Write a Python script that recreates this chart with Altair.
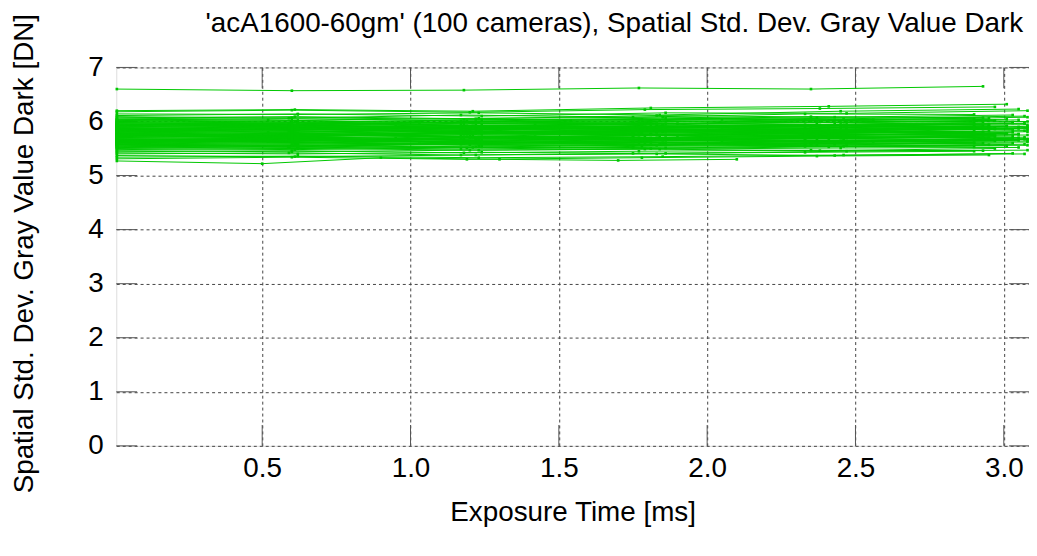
import altair as alt
import pandas as pd

title_text = "'acA1600-60gm' (100 cameras), Spatial Std. Dev. Gray Value Dark"
x_title = "Exposure Time [ms]"
y_title = "Spatial Std. Dev. Gray Value Dark [DN]"

x_ticks = [0.5, 1.0, 1.5, 2.0, 2.5, 3.0]
y_ticks = [0, 1, 2, 3, 4, 5, 6, 7]

# exposure times [ms] used by the cameras
exposure_schedules = {
    "A": [0.01, 0.60, 1.18, 1.77, 2.35, 2.93],
    "B": [0.01, 0.50, 0.90, 1.30, 1.70, 2.10],
    "C": [0.01, 0.61, 1.21, 1.81, 2.41, 3.01],
    "D": [0.01, 0.62, 1.23, 1.84, 2.45, 3.05],
    "E": [0.01, 0.60, 1.20, 1.79, 2.38, 2.97],
    "F": [0.01, 0.62, 1.24, 1.86, 2.47, 3.08],
    "G": [0.01, 0.59, 1.17, 1.75, 2.33, 2.90],
    "H": [0.01, 0.52, 1.03, 1.54, 2.05, 2.56],
    "I": [0.01, 0.48, 0.95, 1.42, 1.90, 2.37],
    "J": [0.01, 0.61, 1.22, 1.83, 2.43, 3.03],
    "K": [0.01, 0.62, 1.23, 1.85, 2.46, 3.07],
    "L": [0.01, 0.60, 1.19, 1.78, 2.37, 2.95],
}

# per camera: exposure schedule, then spatial std. dev. gray value dark [DN]
cameras = [
    ["A", 6.60, 6.57, 6.58, 6.62, 6.60, 6.65],
    ["B", 5.27, 5.22, 5.33, 5.30, 5.28, 5.30],
    ["C", 6.20, 6.22, 6.19, 6.25, 6.28, 6.32],
    ["E", 6.18, 6.21, 6.17, 6.22, 6.24, 6.27],
    ["D", 6.14, 6.13, 6.16, 6.12, 6.19, 6.23],
    ["F", 6.11, 6.14, 6.10, 6.16, 6.15, 6.20],
    ["G", 6.09, 6.06, 6.12, 6.08, 6.14, 6.13],
    ["J", 6.07, 6.09, 6.05, 6.11, 6.08, 6.12],
    ["A", 6.05, 6.07, 6.04, 6.03, 6.09, 6.07],
    ["K", 6.04, 6.02, 6.06, 6.08, 6.05, 6.10],
    ["L", 6.03, 6.05, 6.01, 6.04, 6.07, 6.06],
    ["F", 6.02, 5.99, 6.03, 6.06, 6.02, 6.08],
    ["H", 6.01, 6.03, 5.98, 6.02, 6.04, 6.03],
    ["G", 6.00, 5.97, 6.01, 5.99, 6.03, 6.05],
    ["C", 5.99, 6.01, 5.97, 6.00, 6.02, 6.04],
    ["D", 5.98, 5.95, 5.99, 6.02, 5.98, 6.03],
    ["A", 5.97, 5.99, 5.96, 5.98, 6.01, 5.99],
    ["E", 5.96, 5.94, 5.98, 5.95, 5.99, 6.02],
    ["F", 5.95, 5.97, 5.93, 5.96, 5.98, 6.00],
    ["G", 5.94, 5.92, 5.95, 5.97, 5.94, 5.98],
    ["I", 5.93, 5.95, 5.91, 5.94, 5.96, 5.95],
    ["J", 5.92, 5.90, 5.93, 5.91, 5.95, 5.97],
    ["K", 5.91, 5.93, 5.89, 5.92, 5.94, 5.96],
    ["L", 5.90, 5.88, 5.92, 5.90, 5.93, 5.95],
    ["F", 5.89, 5.91, 5.87, 5.90, 5.92, 5.94],
    ["A", 5.88, 5.86, 5.89, 5.91, 5.88, 5.92],
    ["G", 5.87, 5.89, 5.86, 5.88, 5.90, 5.91],
    ["C", 5.86, 5.84, 5.88, 5.85, 5.89, 5.92],
    ["D", 5.85, 5.87, 5.83, 5.86, 5.88, 5.90],
    ["E", 5.84, 5.82, 5.85, 5.87, 5.84, 5.88],
    ["F", 5.83, 5.85, 5.81, 5.84, 5.86, 5.87],
    ["H", 5.82, 5.80, 5.83, 5.81, 5.85, 5.84],
    ["G", 5.81, 5.83, 5.79, 5.82, 5.84, 5.86],
    ["J", 5.80, 5.78, 5.82, 5.80, 5.83, 5.85],
    ["A", 5.79, 5.81, 5.77, 5.80, 5.82, 5.81],
    ["K", 5.78, 5.76, 5.79, 5.81, 5.78, 5.83],
    ["L", 5.77, 5.79, 5.76, 5.78, 5.80, 5.82],
    ["F", 5.76, 5.74, 5.78, 5.75, 5.79, 5.81],
    ["G", 5.75, 5.77, 5.73, 5.76, 5.78, 5.80],
    ["C", 5.74, 5.72, 5.75, 5.77, 5.74, 5.78],
    ["D", 5.73, 5.75, 5.71, 5.74, 5.76, 5.77],
    ["E", 5.72, 5.70, 5.73, 5.71, 5.75, 5.76],
    ["I", 5.71, 5.73, 5.69, 5.72, 5.74, 5.73],
    ["F", 5.70, 5.68, 5.72, 5.70, 5.73, 5.75],
    ["A", 5.69, 5.71, 5.67, 5.70, 5.72, 5.71],
    ["G", 5.68, 5.66, 5.69, 5.71, 5.68, 5.72],
    ["J", 5.67, 5.69, 5.66, 5.68, 5.70, 5.73],
    ["K", 5.66, 5.64, 5.68, 5.65, 5.69, 5.71],
    ["L", 5.65, 5.67, 5.63, 5.66, 5.68, 5.70],
    ["F", 5.64, 5.62, 5.65, 5.67, 5.64, 5.68],
    ["G", 5.63, 5.65, 5.61, 5.64, 5.66, 5.67],
    ["C", 5.62, 5.60, 5.63, 5.61, 5.65, 5.66],
    ["H", 5.61, 5.63, 5.59, 5.62, 5.64, 5.63],
    ["D", 5.60, 5.58, 5.62, 5.60, 5.63, 5.65],
    ["E", 5.59, 5.61, 5.57, 5.60, 5.62, 5.64],
    ["A", 5.58, 5.56, 5.59, 5.61, 5.58, 5.60],
    ["F", 5.57, 5.59, 5.56, 5.58, 5.60, 5.62],
    ["G", 5.56, 5.54, 5.58, 5.55, 5.59, 5.61],
    ["J", 5.55, 5.57, 5.53, 5.56, 5.58, 5.60],
    ["K", 5.54, 5.52, 5.55, 5.57, 5.54, 5.58],
    ["L", 5.53, 5.55, 5.51, 5.54, 5.56, 5.57],
    ["F", 5.52, 5.50, 5.53, 5.51, 5.55, 5.56],
    ["G", 5.51, 5.53, 5.49, 5.52, 5.54, 5.53],
    ["C", 5.50, 5.48, 5.52, 5.50, 5.53, 5.55],
    ["D", 5.48, 5.50, 5.47, 5.49, 5.51, 5.52],
    ["E", 5.46, 5.44, 5.47, 5.49, 5.46, 5.50],
    ["A", 5.44, 5.46, 5.42, 5.45, 5.47, 5.46],
    ["F", 5.42, 5.40, 5.43, 5.41, 5.45, 5.47],
    ["G", 5.40, 5.42, 5.38, 5.41, 5.43, 5.45],
    ["J", 5.37, 5.35, 5.38, 5.40, 5.37, 5.41],
    ["K", 5.34, 5.36, 5.33, 5.35, 5.38, 5.40],
    ["L", 5.31, 5.34, 5.30, 5.33, 5.36, 5.38],
    ["C", 5.95, 5.90, 5.88, 5.93, 5.86, 5.91],
    ["D", 5.90, 5.94, 5.85, 5.89, 5.92, 5.87],
    ["E", 5.85, 5.80, 5.87, 5.83, 5.79, 5.86],
    ["F", 5.80, 5.86, 5.78, 5.82, 5.88, 5.84],
    ["G", 5.75, 5.71, 5.79, 5.74, 5.77, 5.82],
    ["A", 5.70, 5.76, 5.72, 5.68, 5.74, 5.79],
    ["J", 5.65, 5.61, 5.68, 5.70, 5.63, 5.69],
    ["K", 5.60, 5.66, 5.62, 5.58, 5.65, 5.67],
    ["L", 5.92, 5.97, 5.90, 5.95, 5.99, 5.93],
    ["F", 5.87, 5.84, 5.90, 5.86, 5.82, 5.89],
    ["G", 5.82, 5.87, 5.80, 5.85, 5.81, 5.88],
    ["C", 5.77, 5.73, 5.80, 5.76, 5.82, 5.78],
    ["D", 5.72, 5.78, 5.70, 5.74, 5.69, 5.76],
    ["E", 5.67, 5.63, 5.70, 5.66, 5.72, 5.74],
    ["F", 5.62, 5.68, 5.60, 5.65, 5.61, 5.67],
    ["G", 5.57, 5.53, 5.59, 5.62, 5.56, 5.60],
    ["J", 5.98, 5.93, 6.00, 5.96, 6.02, 5.99],
    ["K", 5.93, 5.98, 5.91, 5.95, 5.90, 5.97],
    ["L", 5.88, 5.84, 5.91, 5.87, 5.93, 5.90],
    ["F", 5.83, 5.88, 5.81, 5.86, 5.84, 5.91],
    ["G", 5.78, 5.74, 5.80, 5.77, 5.73, 5.79],
    ["C", 5.73, 5.79, 5.71, 5.75, 5.80, 5.77],
    ["D", 5.68, 5.64, 5.71, 5.67, 5.63, 5.70],
    ["E", 5.63, 5.69, 5.61, 5.65, 5.70, 5.72],
    ["F", 5.58, 5.55, 5.61, 5.57, 5.62, 5.64],
    ["G", 5.86, 5.90, 5.84, 5.89, 5.92, 5.95],
    ["J", 5.76, 5.72, 5.78, 5.81, 5.75, 5.80],
    ["K", 5.66, 5.70, 5.64, 5.68, 5.71, 5.69],
]

records = []
for cam_idx, row in enumerate(cameras):
    sched = exposure_schedules[row[0]]
    for step, (xv, yv) in enumerate(zip(sched, row[1:])):
        records.append({"camera": cam_idx, "step": step, "exposure": xv, "value": yv})
df = pd.DataFrame(records)

FONT = "Liberation Sans"
FS = 28
W, H = 919, 381
GREEN = "#00c800"
TICKC = "#555555"

x_scale = alt.Scale(domain=[0.008, 3.085], nice=False, zero=False)
y_scale = alt.Scale(domain=[0, 7], nice=False)

x_axis = alt.Axis(values=x_ticks, format=".1f", title=x_title, grid=True,
                  gridDash=[3, 3], gridColor="#444444", gridOpacity=1, gridWidth=1,
                  ticks=False, domain=False, labelFont=FONT, labelFontSize=FS,
                  labelColor="black", labelPadding=9, titleFont=FONT, titleFontSize=FS,
                  titleFontWeight="normal", titleColor="black",
                  titleX=W / 2, titleY=67, titleBaseline="middle", titleAlign="center")
y_axis = alt.Axis(values=y_ticks, format="d", title=y_title, grid=True,
                  gridDash=[3, 3], gridColor="#444444", gridOpacity=1, gridWidth=1,
                  ticks=False, domain=False, labelFont=FONT, labelFontSize=FS,
                  labelColor="black", labelPadding=13, titleFont=FONT, titleFontSize=FS,
                  titleFontWeight="normal", titleColor="black",
                  titleX=-92, titleY=187, titleAngle=-90, titleBaseline="middle",
                  titleAlign="center")

base = alt.Chart(df)

lines = base.mark_line(color=GREEN, strokeWidth=1,
                       point=alt.OverlayMarkDef(shape="square", size=7, filled=True,
                                                color=GREEN, strokeWidth=0)).encode(
    x=alt.X("exposure:Q", scale=x_scale, axis=x_axis),
    y=alt.Y("value:Q", scale=y_scale, axis=y_axis),
    detail="camera:N",
    order="step:Q",
)

xt_df = pd.DataFrame({"t": x_ticks})
yt_df = pd.DataFrame({"t": y_ticks})

xt_bottom = alt.Chart(xt_df).mark_rule(color=TICKC, strokeWidth=1).encode(
    x=alt.X("t:Q", scale=x_scale), y=alt.value(H - 21), y2=alt.value(H))
xt_top = alt.Chart(xt_df).mark_rule(color=TICKC, strokeWidth=1).encode(
    x=alt.X("t:Q", scale=x_scale), y=alt.value(0), y2=alt.value(21))
yt_left = alt.Chart(yt_df).mark_rule(color=TICKC, strokeWidth=1).encode(
    y=alt.Y("t:Q", scale=y_scale), x=alt.value(0), x2=alt.value(21))
yt_right = alt.Chart(yt_df).mark_rule(color=TICKC, strokeWidth=1).encode(
    y=alt.Y("t:Q", scale=y_scale), x=alt.value(W - 20), x2=alt.value(W))

title_df = pd.DataFrame({"label": [title_text]})
title_mark = alt.Chart(title_df).mark_text(
    font=FONT, fontSize=FS, color="black", align="center", baseline="middle"
).encode(text="label:N", x=alt.value(W / 2 + 42), y=alt.value(-44))

chart = alt.layer(xt_bottom, xt_top, yt_left, yt_right, lines, title_mark).properties(
    width=W, height=H,
    autosize=alt.AutoSizeParams(type="none"),
    padding={"left": 109, "top": 58, "right": 0, "bottom": 100},
).configure_view(stroke="black", strokeWidth=1).configure(background="white")

chart.save("out.html", embed_options={"renderer": "svg", "actions": False})
